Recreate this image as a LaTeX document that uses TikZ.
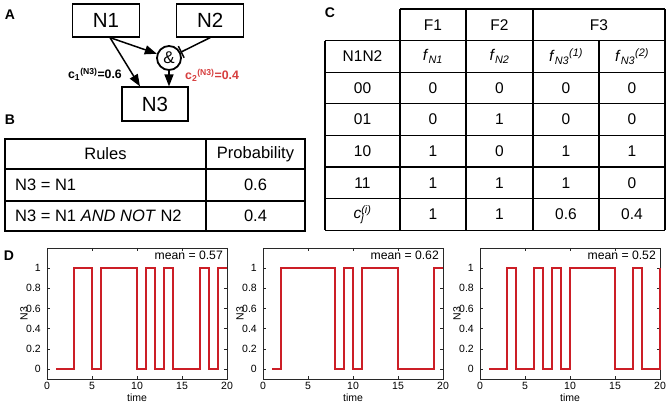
\documentclass[tikz,border=0pt]{standalone}
\usepackage{fontspec}
\setmainfont{Liberation Sans}
\usetikzlibrary{positioning}
\usetikzlibrary{arrows.meta}
\definecolor{sigred}{RGB}{204,30,38}
\definecolor{labred}{RGB}{214,62,62}
\definecolor{axisgray}{RGB}{40,40,40}
\tikzset{genebox/.style={draw, line width=1.2pt, minimum width=67pt, minimum height=33pt,
inner sep=0pt, font=\fontsize{20.5}{20.5}\selectfont},
andgate/.style={draw, circle, line width=1.8pt, minimum size=24pt, inner sep=0pt,
font=\fontsize{17}{17}\selectfont},
act/.style={-{Triangle[length=12pt,width=9pt]}, line width=1.5pt},
inh/.style={-{Bar[width=13pt]}, line width=1.5pt},
panel/.style={font=\fontsize{14}{14}\selectfont\bfseries, inner sep=0pt},
weight/.style={font=\fontsize{12.3}{12.3}\selectfont\bfseries, inner sep=0pt},
tab/.style={line width=1.3pt},
cellB/.style={font=\fontsize{16.5}{16.5}\selectfont, inner sep=0pt},
cellC/.style={font=\fontsize{15.5}{15.5}\selectfont, inner sep=0pt},
axisline/.style={line width=0.6pt, draw=axisgray},
ticklab/.style={font=\fontsize{10.5}{10.5}\selectfont, inner sep=0pt},
trace/.style={draw=sigred, line width=1.9pt}}

\begin{document}
\begin{tikzpicture}[x=1pt, y=-1pt]
\useasboundingbox (0,0) rectangle (671,407);

\node[panel] (labA) at (10,15) {A};
\node[panel] (labB) at (10,120) {B};
\node[panel] (labC) at (330,13) {C};
\node[panel] (labD) at (9,256) {D};

% panel A
\node[genebox] (N1) at (106,20.5) {N1};
\node[genebox, right=36pt of N1] (N2) {N2};
\node[andgate] (amp) at (169,58) {\&};
\node[genebox, minimum width=66pt, minimum height=34pt] (N3) at (155,104) {N3};
\draw[act] ([xshift=4pt]N1.south) -- (amp);
\draw[act] ([xshift=4pt]N1.south) -- ([xshift=-15pt]N3.north);
\draw[inh] (N2.south) -- (amp);
\draw[act] (amp.south) -- (amp.south |- N3.north);
\node[weight, anchor=east] (w1) at (122,74) {c\textsubscript{1}\textsuperscript{(N3)}=0.6};
\node[weight, anchor=west, text=labred] (w2) at (185,75) {c\textsubscript{2}\textsuperscript{(N3)}=0.4};

% panel B
\draw[tab] (5,139) rectangle (305,231);
\draw[tab] (5,169) -- (305,169) (5,201) -- (305,201) (206,139) -- (206,231);
\node[cellB] (rules) at (105.5,154) {Rules};
\node[cellB] (prob) at (255.5,154) {Probability};
\node[cellB, anchor=west] (rule1) at (15,185) {N3 = N1};
\node[cellB, anchor=west] (rule2) at (15,216) {N3 = N1 \textit{AND NOT} N2};
\node[cellB] (prob1) at (255.5,185) {0.6};
\node[cellB] (prob2) at (255.5,216) {0.4};

% panel C
\draw[tab] (400,9) -- (665,9);
\foreach \r in {1,...,7}
  \draw[tab] (325,9+31.6*\r) -- (665,9+31.6*\r);
\draw[tab] (325,40.6) -- (325,230.2) (599,40.6) -- (599,230.2);
\foreach \c in {400,466,533,665}
  \draw[tab] (\c,9) -- (\c,230.2);
\node[cellC] (F1) at (433,24.8) {F1};
\node[cellC] (F2) at (499.5,24.8) {F2};
\node[cellC] (F3) at (599,24.8) {F3};
\node[cellC] (hN) at (362.5,56.4) {N1N2};
\node[cellC] (hA) at (433,56.4) {\textit{f}\textsubscript{\textit{N1}}};
\node[cellC] (hB) at (499.5,56.4) {\textit{f}\textsubscript{\textit{N2}}};
\node[cellC] (hC) at (566,56.4) {\textit{f}\textsubscript{\textit{N3}}\textsuperscript{\textit{(1)}}};
\node[cellC] (hD) at (632,56.4) {\textit{f}\textsubscript{\textit{N3}}\textsuperscript{\textit{(2)}}};
\foreach \st/\a/\b/\c/\d [count=\r from 2] in {00/0/0/0/0, 01/0/1/0/0, 10/1/0/1/1, 11/1/1/1/0, {\textit{c}\rlap{\textsubscript{\textit{j}}}\textsuperscript{\textit{(i)}}}/1/1/0.6/0.4} {
  \node[cellC] (s\r) at (362.5,24.8+31.6*\r) {\st};
  \node[cellC] (a\r) at (433,24.8+31.6*\r) {\a};
  \node[cellC] (b\r) at (499.5,24.8+31.6*\r) {\b};
  \node[cellC] (c\r) at (566,24.8+31.6*\r) {\c};
  \node[cellC] (d\r) at (632,24.8+31.6*\r) {\d};
}

% panel D
\foreach \px/\mv [count=\p] in {47/0.57, 263/0.62, 480/0.52} {
  \begin{scope}[shift={(\px,369)}, x=9pt, y=101pt]
    \draw[axisline] (0,-0.1) rectangle (20,1.2);
    \foreach \t in {0,5,10,15,20} {
      \draw[axisline] (\t,-0.1) -- ++(0,3pt) (\t,1.2) -- ++(0,-3pt);
      \node[ticklab, anchor=north] (xt\p-\t) at ([yshift=-3pt]\t,-0.1) {\t};
    }
    \foreach \v in {0,0.2,0.4,0.6,0.8,1} {
      \draw[axisline] (0,\v) -- ++(3pt,0) (20,\v) -- ++(-3pt,0);
      \node[ticklab, anchor=east] (yt\p-\v) at ([xshift=-6pt]0,\v) {\v};
    }
    \node[ticklab, anchor=north] (xl\p) at ([yshift=-15pt]10,-0.1) {time};
    \node[ticklab, rotate=90] (yl\p) at ([xshift=-23pt]0,0.55) {N3};
    \node[font=\fontsize{12.2}{12.2}\selectfont, inner sep=0pt, anchor=north east] (mean\p)
      at ([xshift=-4pt,yshift=-3pt]20,1.2) {mean = \mv};
  \end{scope}
}
\begin{scope}[shift={(47,369)}, x=9pt, y=101pt]
  \draw[trace] (1,0) -| (3,1) -| (5,0) -| (6,1) -| (10,0) -| (11,1) -| (12,0) -| (13,1)
    -| (14,0) -| (17,1) -| (18,0) -| (19,1) -- (20,1);
\end{scope}
\begin{scope}[shift={(263,369)}, x=9pt, y=101pt]
  \draw[trace] (1,0) -| (2,1) -| (8,0) -| (9,1) -| (10,0) -| (11,1) -| (15,0) -| (19,1) -- (20,1);
\end{scope}
\begin{scope}[shift={(480,369)}, x=9pt, y=101pt]
  \draw[trace] (1,0) -| (3,1) -| (4,0) -| (6,1) -| (7,0) -| (8,1) -| (9,0) -| (10,1)
    -| (15,0) -| (17,1) -| (18,0) -| (20,1);
\end{scope}
\end{tikzpicture}
\end{document}
